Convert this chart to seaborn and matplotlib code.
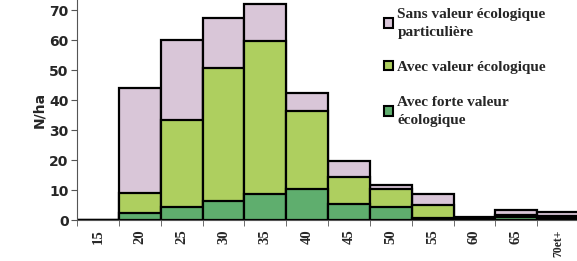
import numpy as np
import pandas as pd
import matplotlib
matplotlib.use("Agg")
import matplotlib.pyplot as plt
import seaborn as sns
from matplotlib.patches import Patch

# diameter classes and densities (N/ha)
classes = ["15", "20", "25", "30", "35", "40", "45", "50", "55", "60", "65", "70et+"]
forte = [0, 2.2, 4.5, 6.5, 8.8, 10.4, 5.3, 4.4, 0.7, 0.4, 1.0, 0.7]
avec = [0, 6.9, 28.8, 44.3, 50.9, 25.9, 9.1, 5.9, 4.3, 0.2, 0.7, 0.8]
sans = [0, 34.9, 26.7, 16.7, 12.5, 6.0, 5.3, 1.4, 3.6, 0.3, 1.6, 1.1]

col_sans = "#d9c6d8"
col_avec = "#aecf5f"
col_forte = "#5fae6e"

df = pd.DataFrame({"classe": classes, "forte": forte, "avec": avec, "sans": sans})
df["cum_avec"] = df["forte"] + df["avec"]
df["cum_sans"] = df["cum_avec"] + df["sans"]

sns.set_style("white")
fig = plt.figure(figsize=(5.77, 2.61), dpi=100)
ax = fig.add_axes([0.1335, 0.157, 0.87, 0.843])

kw = dict(x="classe", width=1.0, edgecolor="black", linewidth=1.6, ax=ax,
          order=classes, saturation=1)
sns.barplot(data=df, y="cum_sans", color=col_sans, **kw)
sns.barplot(data=df, y="cum_avec", color=col_avec, **kw)
sns.barplot(data=df, y="forte", color=col_forte, **kw)

ax.set_xlim(-0.5, 11.13)
ax.set_ylim(0, 73.5)
ax.set_yticks(range(0, 71, 10))
ax.set_ylabel("N/ha", fontsize=10, fontweight="bold", labelpad=2)
ax.set_xlabel("")
for s in ["top", "right"]:
    ax.spines[s].set_visible(False)
ax.spines["left"].set_color("#555555")
ax.spines["bottom"].set_color("#555555")
ax.tick_params(axis="y", length=4, direction="out", left=True, labelsize=10, pad=2, color="#555555")
ax.tick_params(axis="x", length=0, pad=7)
for t in ax.get_yticklabels():
    t.set_fontweight("bold")
ax.set_xticks(range(len(classes)))
ax.set_xticklabels(classes, rotation=90, fontsize=10.5, fontweight="bold", family="Liberation Serif")
# last label is smaller so that it stays inside the picture
ax.get_xticklabels()[-1].set_fontsize(8.5)
# tick marks on class boundaries
ax.set_xticks(np.arange(-0.5, 11.6, 1), minor=True)
ax.tick_params(axis="x", which="minor", length=4, bottom=True, color="#555555")

handles = [Patch(facecolor=col_sans, edgecolor="black", linewidth=1.5),
           Patch(facecolor=col_avec, edgecolor="black", linewidth=1.5),
           Patch(facecolor=col_forte, edgecolor="black", linewidth=1.5)]
labels = ["Sans valeur écologique\nparticulière", "Avec valeur écologique",
          "Avec forte valeur\nécologique"]
leg = ax.legend(handles, labels, loc="upper left", bbox_to_anchor=(0.585, 1.025),
                frameon=False, handlelength=0.55, handleheight=0.55, handletextpad=0.3,
                labelspacing=1.45, prop={"family": "Liberation Serif", "weight": "bold", "size": 11})
for t in leg.get_texts():
    t.set_linespacing(1.45)

fig.savefig("out.png", dpi=100)
